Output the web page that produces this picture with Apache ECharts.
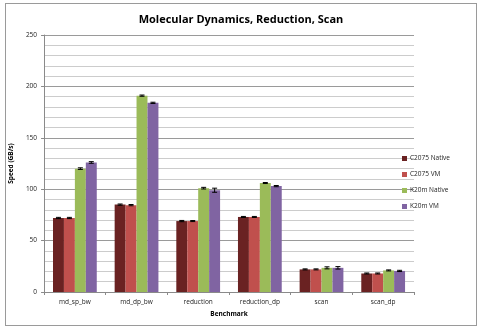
<!DOCTYPE html>
<html>
<head>
<meta charset="utf-8">
<script src="https://cdn.jsdelivr.net/npm/echarts@6/dist/echarts.min.js"></script>
<style>
  html, body { margin: 0; padding: 0; background: #fff; }
  #frame { position: absolute; left: 5px; top: 3px; width: 470px; height: 321px; border: 1px solid #9a9a9a; }
  #chart { position: absolute; left: 0; top: 0; width: 482px; height: 328px; }
</style>
</head>
<body>
<div id="frame"></div>
<div id="chart"></div>
<script>
// 基准测试数据（GB/s）
const benchmarks = ['md_sp_bw', 'md_dp_bw', 'reduction', 'reduction_dp', 'scan', 'scan_dp'];
const seriesNames = ['C2075 Native', 'C2075 VM', 'K20m Native', 'K20m VM'];
const colors = ['#6a2222', '#c0504d', '#9bbb59', '#8064a2'];

const c2075Native = [72, 85, 69, 73, 22, 18];
const c2075Vm     = [72, 84.5, 69, 73, 22, 18];
const k20mNative  = [120, 191, 101, 106, 23.5, 21];
const k20mVm      = [126, 184, 99, 103, 23.5, 20.5];

const errC2075Native = [0.6, 0.6, 0.6, 0.5, 0.5, 0.5];
const errC2075Vm     = [0.6, 0.6, 0.5, 0.5, 0.5, 0.5];
const errK20mNative  = [0.8, 0.6, 0.8, 0.5, 1.0, 0.5];
const errK20mVm      = [0.8, 0.6, 2.0, 0.6, 1.2, 0.6];

const values = [c2075Native, c2075Vm, k20mNative, k20mVm];
const errors = [errC2075Native, errC2075Vm, errK20mNative, errK20mVm];

const CAT_GAP = 0.29;

const chart = echarts.init(document.getElementById('chart'));

const barSeries = seriesNames.map((name, i) => ({
  name,
  type: 'bar',
  data: values[i],
  barGap: '0%',
  barCategoryGap: (CAT_GAP * 100) + '%',
  itemStyle: { color: colors[i] }
}));

// 误差线
const errSeries = seriesNames.map((name, i) => ({
  type: 'custom',
  silent: true,
  z: 5,
  data: values[i].map((v, j) => [j, v, errors[i][j]]),
  renderItem(params, api) {
    const j = api.value(0);
    const v = api.value(1);
    const e = api.value(2);
    const band = api.size([1, 0])[0];
    const bw = band * (1 - CAT_GAP) / 4;
    const base = api.coord([j, v]);
    const x = base[0] - band * (1 - CAT_GAP) / 2 + (i + 0.5) * bw;
    const hi = api.coord([j, v + e])[1];
    const lo = api.coord([j, v - e])[1];
    const style = { stroke: '#000', lineWidth: 1 };
    return {
      type: 'group',
      children: [
        { type: 'line', shape: { x1: x, y1: hi, x2: x, y2: lo }, style },
        { type: 'line', shape: { x1: x - 2.5, y1: hi, x2: x + 2.5, y2: hi }, style },
        { type: 'line', shape: { x1: x - 2.5, y1: lo, x2: x + 2.5, y2: lo }, style }
      ]
    };
  }
}));

chart.setOption({
  animation: false,
  title: {
    text: 'Molecular Dynamics, Reduction, Scan',
    left: 'center',
    top: 9,
    textStyle: { fontFamily: 'Open Sans', fontSize: 11, fontWeight: 'bold', color: '#000' }
  },
  legend: {
    orient: 'vertical',
    left: 397,
    top: 150,
    itemWidth: 5,
    itemHeight: 5,
    itemGap: 9,
    icon: 'rect',
    data: seriesNames,
    textStyle: { fontFamily: 'Open Sans', fontSize: 6.5, color: '#222', padding: [0, 0, 0, -2] }
  },
  grid: { left: 42, right: 68, top: 35, bottom: 36 },
  xAxis: {
    type: 'category',
    data: benchmarks,
    name: 'Benchmark',
    nameLocation: 'middle',
    nameGap: 19,
    nameTextStyle: { fontFamily: 'Open Sans', fontSize: 6.5, fontWeight: 'bold', color: '#000' },
    axisLine: { lineStyle: { color: '#8a8a8a' } },
    axisTick: { show: true, length: 3, lineStyle: { color: '#8a8a8a' } },
    axisLabel: { fontFamily: 'Open Sans', fontSize: 6.5, color: '#222', margin: 7 }
  },
  yAxis: {
    type: 'value',
    min: 0,
    max: 250,
    interval: 50,
    name: 'Speed (GB/s)',
    nameLocation: 'middle',
    nameGap: 19,
    nameTextStyle: { fontFamily: 'Open Sans', fontSize: 6.5, fontWeight: 'bold', color: '#000' },
    axisLine: { show: true, lineStyle: { color: '#8a8a8a' } },
    axisTick: { show: true, length: 3, lineStyle: { color: '#8a8a8a' } },
    axisLabel: { fontFamily: 'Open Sans', fontSize: 6.5, color: '#222', margin: 7 },
    splitLine: { lineStyle: { color: '#9a9a9a', width: 1 } },
    minorTick: { show: false, splitNumber: 5 },
    minorSplitLine: { show: true, lineStyle: { color: '#cccccc', width: 1 } }
  },
  series: [...barSeries, ...errSeries]
});
</script>
</body>
</html>
